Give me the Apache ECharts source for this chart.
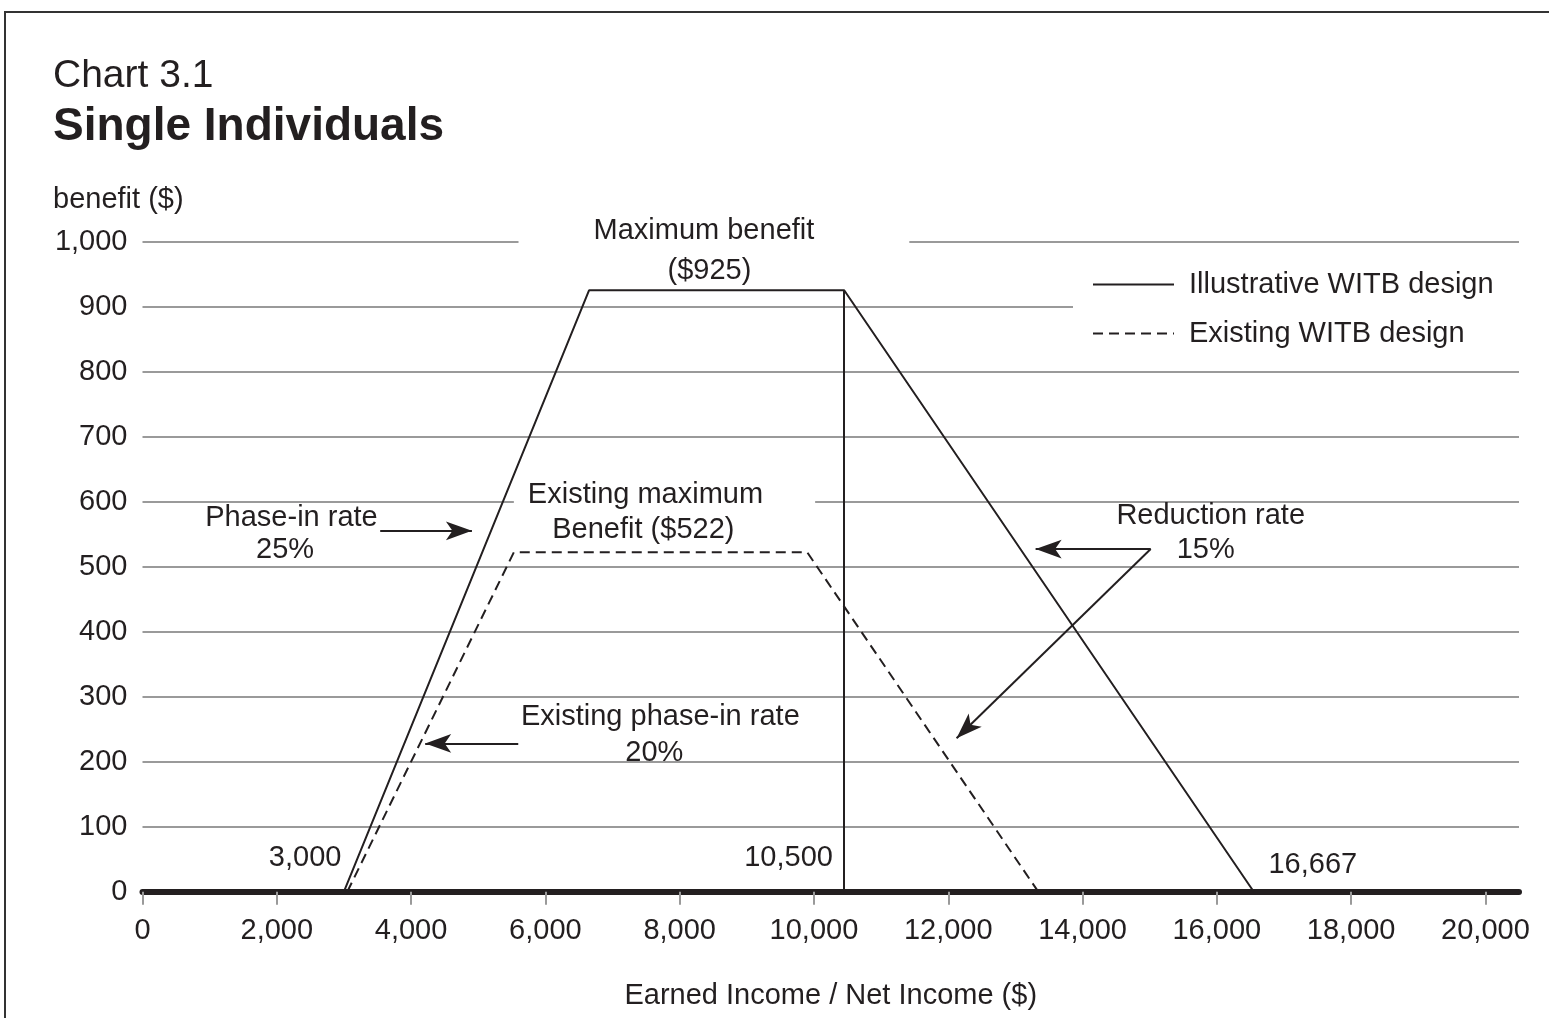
<!DOCTYPE html>
<html><head><meta charset="utf-8">
<script src="https://cdn.jsdelivr.net/npm/echarts@6/dist/echarts.min.js"></script>
<style>html,body{margin:0;padding:0;background:#fff}#c{width:1549px;height:1018px}</style>
</head><body><div id="c"></div>
<script>
// ---- data ----
const xTicks = [0, 2000, 4000, 6000, 8000, 10000, 12000, 14000, 16000, 18000, 20000];
const yTicks = [0, 100, 200, 300, 400, 500, 600, 700, 800, 900, 1000];
const seriesNames = ['Illustrative WITB design', 'Existing WITB design'];
const illustrativeIncome = [3000, 6650, 10450, 16550];
const illustrativeBenefit = [0, 925, 925, 0];
const existingIncome = [3050, 5530, 9900, 13340];
const existingBenefit = [0, 522, 522, 0];

// ---- annotations (text, anchor in data space) ----
const notes = [
  { text: 'Maximum benefit', at: [8510, 1016.5], box: [4, 95, 6, 75] },
  { text: '($925)', at: [8443, 955] },
  { text: 'Phase-in rate', at: [2219, 575] },
  { text: '25%', at: [2124, 526] },
  { text: 'Existing maximum', at: [7774, 610], box: [0, 52, 2, 14], lh: 22 },
  { text: 'Benefit ($522)', at: [7459, 557] },
  { text: 'Reduction rate', at: [15909, 578] },
  { text: '15%', at: [15835, 526] },
  { text: 'Existing phase-in rate', at: [7712, 268] },
  { text: '20%', at: [7623, 213] },
  { text: '3,000', at: [2422, 52] },
  { text: '10,500', at: [9622, 52] },
  { text: '16,667', at: [17429, 41] }
];
const arrows = [
  [[3540, 555], [4906, 555]],
  [[15015, 527], [13301, 527]],
  [[15015, 527], [12124, 236]],
  [[5596, 228], [4210, 228]]
];

const FONT = 'Liberation Sans, Arial, Helvetica, sans-serif';
const INK = '#231f20';
const fmt = v => Number(v).toLocaleString('en-US');

const pairs = (xs, ys) => xs.map((x, i) => [x, ys[i]]);

const chart = echarts.init(document.getElementById('c'), null, { renderer: 'canvas' });
chart.setOption({
  animation: false,
  backgroundColor: '#fff',
  color: [INK, INK],
  textStyle: { fontFamily: FONT, color: INK },
  grid: { left: 142.5, right: 30, top: 241.5, bottom: 126.3, containLabel: false },
  legend: {
    orient: 'vertical', left: 1073, top: 262,
    padding: [8, 30, 8, 19],
    backgroundColor: '#fff',
    itemWidth: 81, itemHeight: 26, itemGap: 20,
    selectedMode: false,
    itemStyle: { opacity: 0 },
    textStyle: { fontSize: 29, color: INK, fontFamily: FONT, padding: [0, 0, 0, 10] },
    data: seriesNames
  },
  xAxis: {
    type: 'value', min: 0, max: 20500, interval: 2000,
    name: 'Earned Income / Net Income ($)', nameLocation: 'middle', nameGap: 90,
    nameTextStyle: { fontSize: 29, color: INK, fontFamily: FONT },
    axisLine: { onZero: true, lineStyle: { color: INK, width: 6 } },
    axisTick: { show: true, customValues: xTicks, length: 13, lineStyle: { color: '#9a9a9a', width: 2 } },
    axisLabel: { customValues: xTicks, formatter: fmt, fontSize: 29, color: INK, fontFamily: FONT, margin: 25 },
    splitLine: { show: false }
  },
  yAxis: {
    type: 'value', min: 0, max: 1000, interval: 100,
    axisLine: { show: false }, axisTick: { show: false },
    axisLabel: { formatter: fmt, fontSize: 29, color: INK, fontFamily: FONT, margin: 15 },
    splitLine: { lineStyle: { color: '#9a9a9a', width: 2 } }
  },
  graphic: [
    { type: 'polyline', shape: { points: [[5, 1018], [5, 12], [1549, 12]] }, style: { stroke: '#333', lineWidth: 2, fill: null }, z: 100 },
    { type: 'text', x: 53, y: 76, style: { text: 'Chart 3.1', font: '39px ' + FONT, fill: INK, verticalAlign: 'middle' } },
    { type: 'text', x: 53, y: 127, style: { text: 'Single Individuals', font: 'bold 46px ' + FONT, fill: INK, verticalAlign: 'middle' } },
    { type: 'text', x: 53, y: 200, style: { text: 'benefit ($)', font: '29px ' + FONT, fill: INK, verticalAlign: 'middle' } }
  ],
  series: [
    {
      name: seriesNames[0], type: 'line', symbol: 'none', z: 5,
      itemStyle: { color: INK },
      lineStyle: { color: INK, width: 2, type: 'solid' },
      data: pairs(illustrativeIncome, illustrativeBenefit),
      markLine: {
        silent: true, symbol: 'none', label: { show: false },
        lineStyle: { color: INK, width: 2, type: 'solid' },
        data: [[{ coord: [illustrativeIncome[2], 0] }, { coord: [illustrativeIncome[2], illustrativeBenefit[2]] }]]
      }
    },
    {
      name: seriesNames[1], type: 'line', symbol: 'none', z: 5,
      itemStyle: { color: INK },
      lineStyle: { color: INK, width: 2, type: [10, 6] },
      data: pairs(existingIncome, existingBenefit)
    },
    {
      name: 'notes', type: 'scatter', symbolSize: 0, clip: false, z: 10, silent: true,
      itemStyle: { opacity: 1, color: INK },
      data: notes.map(n => {
        const lab = n.box ? { backgroundColor: '#fff', padding: n.box } : {};
        if (n.lh) lab.lineHeight = n.lh;
        return { value: n.at, name: n.text, label: lab };
      }),
      label: {
        show: true, position: 'inside', formatter: p => p.name,
        fontSize: 29, color: INK, fontFamily: FONT, align: 'center', verticalAlign: 'middle'
      },
      markLine: {
        silent: true, symbol: ['none', 'arrow'], symbolSize: [14, 26], label: { show: false },
        lineStyle: { color: INK, width: 2, type: 'solid', opacity: 1 },
        data: arrows.map(a => [{ coord: a[0] }, { coord: a[1] }])
      }
    }
  ]
});
</script>
</body></html>
